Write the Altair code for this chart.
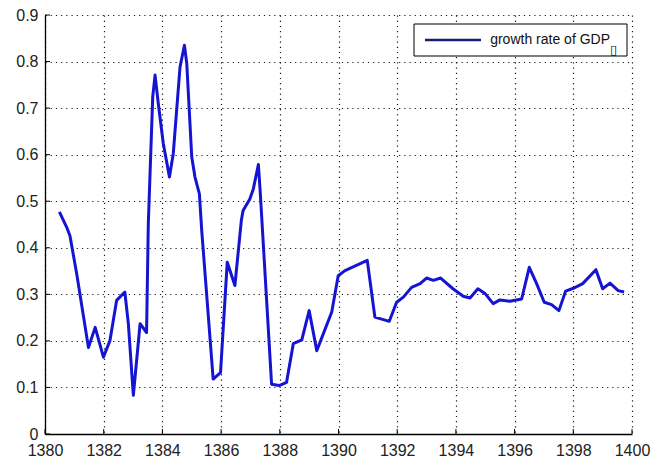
import altair as alt
import pandas as pd

# Growth rate series (year, rate)
years = [1380.49, 1380.74, 1380.85, 1381.08, 1381.48, 1381.71, 1381.99, 1382.21, 1382.44, 1382.72,
         1382.84, 1383.01, 1383.24, 1383.46, 1383.52, 1383.67, 1383.75, 1383.86, 1384.03, 1384.24,
         1384.37, 1384.60, 1384.75, 1384.83, 1385.00, 1385.11, 1385.26, 1385.34, 1385.73, 1385.98,
         1386.21, 1386.47, 1386.69, 1386.75, 1386.98, 1387.10, 1387.27, 1387.33, 1387.72, 1387.98,
         1388.23, 1388.46, 1388.75, 1389.00, 1389.26, 1389.77, 1389.99, 1390.22, 1390.98, 1391.24,
         1391.73, 1391.98, 1392.21, 1392.49, 1392.78, 1393.00, 1393.23, 1393.48, 1393.90, 1394.25,
         1394.48, 1394.75, 1394.99, 1395.27, 1395.50, 1395.84, 1396.24, 1396.50, 1396.75, 1397.01,
         1397.26, 1397.51, 1397.74, 1398.00, 1398.32, 1398.77, 1399.00, 1399.25, 1399.53, 1399.73]
growth = [0.477, 0.444, 0.426, 0.344, 0.186, 0.229, 0.165, 0.200, 0.287, 0.305,
          0.237, 0.083, 0.237, 0.218, 0.452, 0.724, 0.771, 0.710, 0.624, 0.552,
          0.602, 0.788, 0.835, 0.796, 0.595, 0.552, 0.516, 0.437, 0.118, 0.132,
          0.369, 0.319, 0.459, 0.480, 0.505, 0.527, 0.579, 0.523, 0.107, 0.104,
          0.111, 0.194, 0.202, 0.265, 0.179, 0.262, 0.340, 0.351, 0.373, 0.251,
          0.242, 0.283, 0.294, 0.315, 0.323, 0.335, 0.330, 0.335, 0.312, 0.296,
          0.292, 0.312, 0.302, 0.280, 0.288, 0.285, 0.290, 0.358, 0.323, 0.283,
          0.278, 0.265, 0.307, 0.313, 0.323, 0.353, 0.312, 0.324, 0.308, 0.305]

x_ticks = [1380, 1382, 1384, 1386, 1388, 1390, 1392, 1394, 1396, 1398, 1400]
y_ticks = [0.0, 0.1, 0.2, 0.3, 0.4, 0.5, 0.6, 0.7, 0.8, 0.9]

legend_label = ["growth rate of GDP"]
legend_sub = ["\u25af"]

W, H = 587, 419
FONT = "Liberation Sans"

df = pd.DataFrame({"year": years, "rate": growth})
xt = pd.DataFrame({"t": x_ticks})
yt = pd.DataFrame({"t": y_ticks})
leg = pd.DataFrame({"label": legend_label, "sub": legend_sub})

xs = alt.Scale(domain=[1380, 1400], nice=False, zero=False)
ys = alt.Scale(domain=[0, 0.9], nice=False)

x_axis = alt.Axis(values=x_ticks, format="d", grid=True, gridDash=[1.2, 4], gridColor="black",
                  gridOpacity=0.9, gridWidth=1.2, tickSize=0, labelFontSize=16, labelFont=FONT,
                  labelColor="#222", labelPadding=8, domainColor="black", domainWidth=1.3,
                  title=None, labelFlush=False)
y_axis = alt.Axis(values=y_ticks, grid=True, gridDash=[1.2, 4], gridColor="black",
                  gridOpacity=0.9, gridWidth=1.2, tickSize=0, labelFontSize=16, labelFont=FONT,
                  labelColor="#222", labelPadding=7, domainColor="black", domainWidth=1.3,
                  title=None, labelFlush=False,
                  labelExpr="datum.value == 0 ? '0' : format(datum.value, '.1f')")

line = alt.Chart(df).mark_line(color="#1414d2", strokeWidth=3, strokeJoin="round").encode(
    x=alt.X("year:Q", scale=xs, axis=x_axis),
    y=alt.Y("rate:Q", scale=ys, axis=y_axis),
)

# Inward tick marks, MATLAB style
x_tick_marks = alt.Chart(xt).mark_rule(color="black", strokeWidth=1).encode(
    x=alt.X("t:Q", scale=xs), y=alt.value(H), y2=alt.value(H - 5))
y_tick_marks = alt.Chart(yt).mark_rule(color="black", strokeWidth=1).encode(
    y=alt.Y("t:Q", scale=ys), x=alt.value(0), x2=alt.value(5))

# Legend box
box = alt.Chart(leg).mark_rect(fill="white", stroke="black", strokeWidth=1).encode(
    x=alt.value(369), x2=alt.value(582), y=alt.value(9), y2=alt.value(41))
swatch = alt.Chart(leg).mark_rule(color="#1c1c6e", strokeWidth=2.5).encode(
    x=alt.value(380), x2=alt.value(436), y=alt.value(25))
label = alt.Chart(leg).mark_text(align="right", baseline="middle", fontSize=14, font=FONT,
                                 color="#111").encode(
    text="label:N", x=alt.value(565), y=alt.value(25))
sub = alt.Chart(leg).mark_text(align="left", baseline="middle", fontSize=13, font="DejaVu Sans",
                               color="#111", fontWeight="bold").encode(
    text="sub:N", x=alt.value(565), y=alt.value(35))

chart = alt.layer(line, x_tick_marks, y_tick_marks, box, swatch, label, sub).properties(
    width=W, height=H,
    autosize=alt.AutoSizeParams(type="none"),
    padding={"left": 45, "top": 15, "right": 20, "bottom": 27},
    background="white",
).configure_view(stroke=None)

chart.save("out.html", embed_options={"renderer": "svg", "actions": False})
